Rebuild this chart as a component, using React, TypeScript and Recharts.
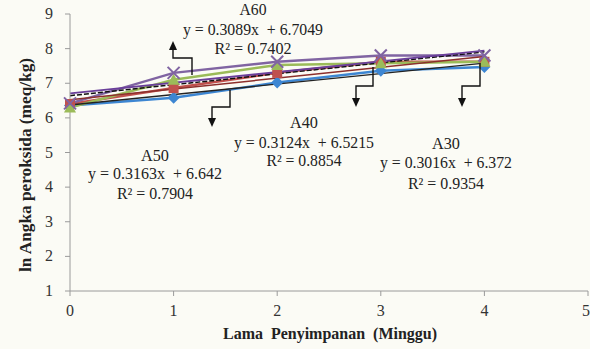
import React from "react";
import { CartesianGrid, Line, LineChart, XAxis, YAxis } from "recharts";

// Lama penyimpanan (minggu) vs ln angka peroksida
const weeks = [0, 1, 2, 3, 4];
const a30 = [6.36, 6.58, 7.02, 7.36, 7.47];
const a40 = [6.4, 6.86, 7.3, 7.62, 7.62];
const a50 = [6.3, 7.1, 7.53, 7.58, 7.62];
const a60 = [6.42, 7.3, 7.62, 7.8, 7.8];

// trendline ends (week 0 and week 4), from the printed equations
const trendAt0 = [6.372, 6.5215, 6.642, 6.7049];
const trendAt4 = [7.5784, 7.7711, 7.9072, 7.9405];

const xTicks = [0, 1, 2, 3, 4, 5];
const yTicks = [1, 2, 3, 4, 5, 6, 7, 8, 9];

const rows = weeks.map((w, i) => {
  const t = (k: number) =>
    i === 0 ? trendAt0[k] : i === weeks.length - 1 ? trendAt4[k] : null;
  return {
    week: w,
    A30: a30[i],
    A40: a40[i],
    A50: a50[i],
    A60: a60[i],
    T30: t(0),
    T40: t(1),
    T50: t(2),
    T60: t(3),
  };
});

const BLUE = "#3d86d2";
const RED = "#c0504d";
const GREEN = "#9bbb59";
const PURPLE = "#8064a2";
const FONT = "Liberation Serif";

const Diamond = ({ cx, cy }: any) => (
  <polygon
    points={`${cx},${cy - 6} ${cx + 6},${cy} ${cx},${cy + 6} ${cx - 6},${cy}`}
    fill={BLUE}
  />
);
const Square = ({ cx, cy }: any) => (
  <rect x={cx - 5} y={cy - 5} width={10} height={10} fill={RED} />
);
const Triangle = ({ cx, cy }: any) => (
  <polygon
    points={`${cx},${cy - 6} ${cx + 6},${cy + 5} ${cx - 6},${cy + 5}`}
    fill={GREEN}
  />
);
const Cross = ({ cx, cy }: any) => (
  <g stroke={PURPLE} strokeWidth={2}>
    <line x1={cx - 6} y1={cy - 6} x2={cx + 6} y2={cy + 6} />
    <line x1={cx - 6} y1={cy + 6} x2={cx + 6} y2={cy - 6} />
  </g>
);

const XTick = ({ x, y, payload }: any) => (
  <text x={x} y={y + 14} textAnchor="middle" fontFamily={FONT} fontSize={16} fill="#333">
    {payload.value}
  </text>
);
const YTick = ({ x, y, payload }: any) => (
  <text x={x - 4} y={y + 5} textAnchor="end" fontFamily={FONT} fontSize={16} fill="#333">
    {payload.value}
  </text>
);

// elbow connector with arrowhead: [fromX, fromY, turnY, toX, tipY]
const arrows = [
  [192, 75, 58, 173, 41],
  [230, 90, 107, 212, 127],
  [373, 67, 86, 356, 107],
  [480, 63, 86, 462, 107],
];

const labels = [
  { cx: 253, y: [15, 35, 54], w: [27, 140, 77], t: ["A60", "y = 0.3089x  + 6.7049", "R² = 0.7402"] },
  { cx: 304, y: [128, 148, 166], w: [28, 140, 75], t: ["A40", "y = 0.3124x  + 6.5215", "R² = 0.8854"] },
  { cx: 446, y: [149, 168, 189], w: [28, 132, 76], t: ["A30", "y = 0.3016x  + 6.372", "R² = 0.9354"] },
  { cx: 155, y: [161, 179, 199], w: [28, 134, 76], t: ["A50", "y = 0.3163x  + 6.642", "R² = 0.7904"] },
];

export default function App() {
  return (
    <div
      style={{
        position: "relative",
        width: 590,
        height: 349,
        background: "#fbfbf5",
        overflow: "hidden",
      }}
    >
      <style>{`body{margin:0}`}</style>
      <LineChart
        width={590}
        height={349}
        data={rows}
        margin={{ top: 14, right: 2, bottom: 0, left: 0 }}
      >
        <CartesianGrid stroke="none" />
        <XAxis
          type="number"
          dataKey="week"
          domain={[0, 5]}
          ticks={xTicks}
          height={58}
          tickSize={5}
          tickMargin={6}
          stroke="#9a9a9a"
          tick={<XTick />}
        />
        <YAxis
          type="number"
          domain={[1, 9]}
          ticks={yTicks}
          width={70}
          tickSize={5}
          tickMargin={8}
          stroke="#9a9a9a"
          tick={<YTick />}
        />
        <Line dataKey="A30" stroke={BLUE} strokeWidth={2.5} dot={(p: any) => <Diamond key={p.index} {...p} />} isAnimationActive={false} />
        <Line dataKey="A40" stroke={RED} strokeWidth={2.5} dot={(p: any) => <Square key={p.index} {...p} />} isAnimationActive={false} />
        <Line dataKey="A50" stroke={GREEN} strokeWidth={2.5} dot={(p: any) => <Triangle key={p.index} {...p} />} isAnimationActive={false} />
        <Line dataKey="A60" stroke={PURPLE} strokeWidth={2.5} dot={(p: any) => <Cross key={p.index} {...p} />} isAnimationActive={false} />
        <Line dataKey="T30" stroke="#222" strokeWidth={1.3} dot={false} connectNulls isAnimationActive={false} />
        <Line dataKey="T40" stroke="#8c2f2c" strokeWidth={1.5} dot={false} connectNulls isAnimationActive={false} />
        <Line dataKey="T50" stroke="#111" strokeWidth={1.5} strokeDasharray="5 2" dot={false} connectNulls isAnimationActive={false} />
        <Line dataKey="T60" stroke="#6a3f9a" strokeWidth={1.8} dot={false} connectNulls isAnimationActive={false} />
      </LineChart>
      <svg
        width={590}
        height={349}
        style={{ position: "absolute", left: 0, top: 0, pointerEvents: "none" }}
      >
        {arrows.map(([x1, y1, ty, x2, tip], i) => (
          <g key={i}>
            <path
              d={`M${x1},${y1} V${ty} H${x2} V${tip > ty ? tip - 8 : tip + 8}`}
              fill="none"
              stroke="#111"
              strokeWidth={1.4}
            />
            <polygon
              points={
                tip > ty
                  ? `${x2 - 4},${tip - 9} ${x2 + 4},${tip - 9} ${x2},${tip}`
                  : `${x2 - 4},${tip + 9} ${x2 + 4},${tip + 9} ${x2},${tip}`
              }
              fill="#111"
            />
          </g>
        ))}
        {labels.map((l, i) =>
          l.t.map((s, j) => (
            <text
              key={`${i}-${j}`}
              x={l.cx}
              y={l.y[j]}
              textAnchor="middle"
              fontFamily={FONT}
              fontSize={16}
              fill="#222"
              textLength={l.w[j]}
              lengthAdjust="spacingAndGlyphs"
              style={{ whiteSpace: "pre" }}
            >
              {s}
            </text>
          ))
        )}
        <text
          x={330}
          y={339}
          textAnchor="middle"
          fontFamily={FONT}
          fontWeight="bold"
          fontSize={16}
          fill="#222"
          textLength={214}
          lengthAdjust="spacingAndGlyphs"
          style={{ whiteSpace: "pre" }}
        >
          Lama  Penyimpanan  (Minggu)
        </text>
        <text
          transform="translate(31,165) rotate(-90)"
          textAnchor="middle"
          fontFamily={FONT}
          fontWeight="bold"
          fontSize={16}
          fill="#222"
          textLength={214}
          lengthAdjust="spacingAndGlyphs"
        >
          ln Angka peroksida (meq/kg)
        </text>
      </svg>
    </div>
  );
}
